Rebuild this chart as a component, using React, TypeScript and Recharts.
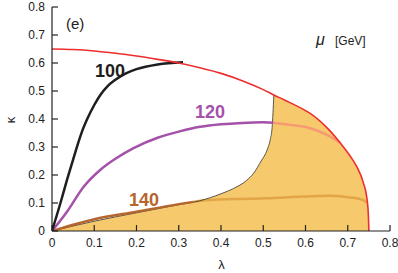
import { ComposedChart, Line, Area, XAxis, YAxis } from 'recharts';

const W = 398;
const H = 273;

const TICKS = [0, 0.1, 0.2, 0.3, 0.4, 0.5, 0.6, 0.7, 0.8];

// all curves as [lambda, kappa]
const RED_EDGE: [number, number][] = [
  [0, 0.65], [0.05, 0.648], [0.1, 0.643], [0.15, 0.635], [0.2, 0.625], [0.25, 0.613],
  [0.3, 0.6], [0.35, 0.583], [0.4, 0.563], [0.45, 0.537], [0.5, 0.505], [0.525, 0.486],
  [0.55, 0.468], [0.6, 0.43], [0.611, 0.42], [0.65, 0.37], [0.682, 0.315], [0.706, 0.267],
  [0.722, 0.228], [0.737, 0.172], [0.746, 0.11], [0.749, 0.05], [0.75, 0],
];

const BOUNDARY: [number, number][] = [
  [0, 0], [0.1, 0.035], [0.2, 0.065], [0.3, 0.094], [0.35, 0.108], [0.4, 0.133],
  [0.43, 0.152], [0.46, 0.18], [0.477, 0.206], [0.495, 0.25], [0.509, 0.289],
  [0.517, 0.33], [0.521, 0.37], [0.523, 0.42], [0.525, 0.486],
];

const MU100: [number, number][] = [
  [0, 0], [0.02, 0.1], [0.035, 0.18], [0.05, 0.255], [0.06, 0.305], [0.071, 0.355],
  [0.085, 0.405], [0.1, 0.45], [0.114, 0.485], [0.13, 0.515], [0.15, 0.54], [0.175, 0.563],
  [0.2, 0.578], [0.25, 0.595], [0.31, 0.603],
];

const MU120: [number, number][] = [
  [0, 0], [0.0355, 0.069], [0.075, 0.158], [0.114, 0.218], [0.15, 0.258], [0.193, 0.296],
  [0.25, 0.333], [0.3, 0.355], [0.351, 0.372], [0.4, 0.381], [0.45, 0.386], [0.5, 0.388],
  [0.524, 0.387],
];

const MU120_INSIDE: [number, number][] = [
  [0.524, 0.387], [0.564, 0.379], [0.611, 0.367], [0.651, 0.343], [0.682, 0.315],
];

const MU140: [number, number][] = [
  [0, 0], [0.1, 0.042], [0.2, 0.069], [0.3, 0.096], [0.334, 0.104],
];

const MU140_INSIDE: [number, number][] = [
  [0.334, 0.104], [0.351, 0.108], [0.43, 0.114], [0.509, 0.117], [0.58, 0.122],
  [0.627, 0.125], [0.659, 0.126], [0.706, 0.12], [0.737, 0.11], [0.745, 0.1],
];

const pts = (arr: [number, number][]) => arr.map(([x, y]) => ({ x, y }));

const fillEdge = pts([...BOUNDARY, ...RED_EDGE.filter(([x]) => x > 0.525)]);

const AXIS = '#222';
const FONT = '"Liberation Sans", Arial, sans-serif';

const fmt = (v: number) => (v === 0 ? '0' : v.toFixed(1));

function BottomTick(props: any) {
  const { x, y, payload } = props;
  return (
    <g>
      <line x1={x} y1={y} x2={x} y2={y - 6} stroke={AXIS} strokeWidth={1.2} />
      <text x={x} y={y + 15.5} textAnchor="middle" fontSize={12} fontFamily={FONT} fill={AXIS}>
        {fmt(payload.value)}
      </text>
    </g>
  );
}

function LeftTick(props: any) {
  const { x, y, payload } = props;
  return (
    <g>
      <line x1={x} y1={y} x2={x + 6} y2={y} stroke={AXIS} strokeWidth={1.2} />
      <text x={x - 7} y={y + 4.2} textAnchor="end" fontSize={12} fontFamily={FONT} fill={AXIS}>
        {fmt(payload.value)}
      </text>
    </g>
  );
}

function TopTick(props: any) {
  const { x, y } = props;
  return <line x1={x} y1={y} x2={x} y2={y + 6} stroke={AXIS} strokeWidth={1.2} />;
}

function RightTick(props: any) {
  const { x, y } = props;
  return <line x1={x} y1={y} x2={x - 7} y2={y} stroke={AXIS} strokeWidth={1.2} />;
}

export default function App() {
  return (
    <div style={{ position: 'absolute', left: 0, top: 0, width: W, height: H }}>
      <ComposedChart width={W} height={H} margin={{ top: 7, right: 8, bottom: 22, left: 0 }}>
        <XAxis
          xAxisId="b" dataKey="x" type="number" domain={[0, 0.8]} ticks={TICKS}
          allowDataOverflow height={20} tickSize={0} tickMargin={0}
          axisLine={{ stroke: AXIS, strokeWidth: 1.2 }} tick={<BottomTick />} interval={0}
        />
        <XAxis
          xAxisId="t" orientation="top" dataKey="x" type="number" domain={[0, 0.8]} ticks={TICKS}
          allowDataOverflow height={0} tickSize={0} tickMargin={0}
          axisLine={{ stroke: AXIS, strokeWidth: 1.2 }} tick={<TopTick />} interval={0}
        />
        <YAxis
          yAxisId="l" type="number" domain={[0, 0.8]} ticks={TICKS} allowDataOverflow
          width={52} tickSize={0} tickMargin={0}
          axisLine={{ stroke: AXIS, strokeWidth: 1.2 }} tick={<LeftTick />} interval={0}
        />
        <YAxis
          yAxisId="r" orientation="right" type="number" domain={[0, 0.8]} ticks={TICKS} allowDataOverflow
          width={0} tickSize={0} tickMargin={0}
          axisLine={{ stroke: AXIS, strokeWidth: 1.2 }} tick={<RightTick />} interval={0}
        />

        <Area
          xAxisId="b" yAxisId="l" data={fillEdge} dataKey="y" type="monotoneX"
          fill="#F5C96C" fillOpacity={1} stroke="none" baseValue={0} isAnimationActive={false}
        />
        <Line xAxisId="b" yAxisId="l" data={pts(MU120_INSIDE)} dataKey="y" type="monotoneX"
          stroke="#F59A72" strokeWidth={2.5} dot={false} isAnimationActive={false} />
        <Line xAxisId="b" yAxisId="l" data={pts(MU140_INSIDE)} dataKey="y" type="monotoneX"
          stroke="#E3A646" strokeWidth={2.5} dot={false} isAnimationActive={false} />
        <Line xAxisId="b" yAxisId="l" data={pts(BOUNDARY)} dataKey="y" type="monotoneX"
          stroke="#333" strokeWidth={0.8} dot={false} isAnimationActive={false} />
        <Line xAxisId="b" yAxisId="l" data={pts(MU140)} dataKey="y" type="monotoneX"
          stroke="#B5652D" strokeWidth={2.5} dot={false} isAnimationActive={false} />
        <Line xAxisId="b" yAxisId="l" data={pts(MU120)} dataKey="y" type="monotoneX"
          stroke="#A451AA" strokeWidth={2.5} dot={false} isAnimationActive={false} />
        <Line xAxisId="b" yAxisId="l" data={pts(MU100)} dataKey="y" type="monotoneX"
          stroke="#1e1e1e" strokeWidth={2.5} dot={false} isAnimationActive={false} />
        <Line xAxisId="b" yAxisId="l" data={pts(RED_EDGE)} dataKey="y" type="monotoneX"
          stroke="#EE2E2E" strokeWidth={1.6} dot={false} isAnimationActive={false} />
      </ComposedChart>

      <svg width={W} height={H} style={{ position: 'absolute', left: 0, top: 0, pointerEvents: 'none' }}>
        <text x={66} y={29} fontSize={15} fontFamily={FONT} fill={AXIS}>(e)</text>
        <text x={316} y={45} fontSize={16} fontFamily={FONT} fontStyle="italic" fill={AXIS}>μ</text>
        <text x={335} y={45} fontSize={12} fontFamily={FONT} fill={AXIS}>[GeV]</text>
        <text x={95} y={77} fontSize={18} fontWeight="bold" fontFamily={'"Liberation Sans Narrow", ' + FONT} fill="#1e1e1e">100</text>
        <text x={195} y={118} fontSize={18} fontWeight="bold" fontFamily={'"Liberation Sans Narrow", ' + FONT} fill="#A451AA">120</text>
        <text x={129} y={206} fontSize={18} fontWeight="bold" fontFamily={'"Liberation Sans Narrow", ' + FONT} fill="#B5652D">140</text>
        <text x={221.5} y={269} fontSize={13} textAnchor="middle" fontFamily={FONT} fill={AXIS}>λ</text>
        <text x={0} y={0} fontSize={13} textAnchor="middle" fontFamily={FONT} fill={AXIS}
          transform="translate(15,120) rotate(-90)">κ</text>
      </svg>
    </div>
  );
}
